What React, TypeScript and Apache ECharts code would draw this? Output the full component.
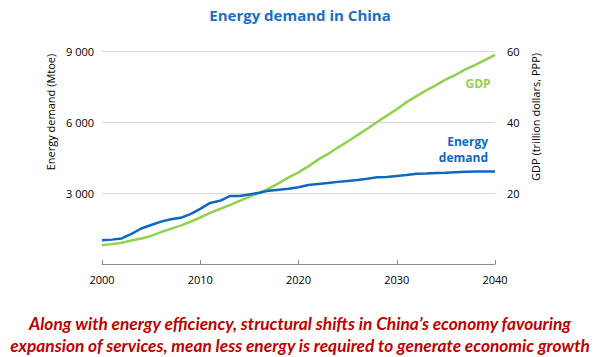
import React, { useEffect, useRef } from "react";
import * as echarts from "echarts";

const years: string[] = [];
for (let y = 2000; y <= 2040; y++) years.push(String(y));

const energyDemand = [
  1000, 1030, 1080, 1270, 1500, 1650, 1790, 1890, 1950, 2110,
  2330, 2580, 2670, 2870, 2870, 2940, 3010, 3100, 3140, 3180,
  3240, 3340, 3380, 3420, 3470, 3510, 3550, 3600, 3670, 3680,
  3720, 3760, 3810, 3820, 3850, 3860, 3880, 3900, 3910, 3910, 3910,
];

const gdp = [
  5.3, 5.6, 6.0, 6.6, 7.2, 7.9, 9.0, 9.9, 10.8, 11.9,
  13.1, 14.4, 15.5, 16.6, 17.8, 18.9, 20.0, 21.3, 22.8, 24.4,
  25.8, 27.5, 29.4, 31.0, 32.8, 34.5, 36.3, 38.1, 40.0, 41.8,
  43.6, 45.6, 47.3, 48.9, 50.4, 52.0, 53.3, 54.8, 56.1, 57.5, 58.9,
];

const leftTicks = [0, 3000, 6000, 9000];
const rightTicks = [0, 20, 40, 60];

const footerLines = [
  "Along with energy efficiency, structural shifts in China\u2019s economy favouring",
  "expansion of services, mean less energy is required to generate economic growth",
];

const FONT = "'Open Sans', sans-serif";
const BLUE = "#0f67c0";
const GREEN = "#92d050";

export default function App() {
  const ref = useRef<HTMLDivElement>(null);
  useEffect(() => {
    if (!ref.current) return;
    const chart = echarts.init(ref.current, null, { renderer: "svg" });
    chart.setOption({
      animation: false,
      backgroundColor: "#ffffff",
      textStyle: { fontFamily: FONT },
      title: {
        text: "Energy demand in China",
        left: "center",
        top: 2,
        textStyle: { color: "#1a6fc4", fontSize: 15, fontWeight: "bold", fontFamily: FONT },
      },
      grid: { left: 102, right: 105, top: 51, bottom: 93, containLabel: false },
      xAxis: {
        type: "category",
        data: years,
        boundaryGap: false,
        axisLine: { lineStyle: { color: "#8c8c8c", width: 1 } },
        axisTick: {
          show: true,
          inside: true,
          length: 4,
          interval: (i: number) => i % 10 === 0,
          lineStyle: { color: "#8c8c8c" },
        },
        axisLabel: {
          interval: (i: number) => i % 10 === 0,
          color: "#000",
          fontSize: 11,
          margin: 10,
          fontFamily: FONT,
        },
        splitLine: { show: false },
      },
      yAxis: [
        {
          type: "value",
          min: leftTicks[0],
          max: leftTicks[leftTicks.length - 1],
          interval: leftTicks[1] - leftTicks[0],
          axisLine: { show: false },
          axisTick: { show: false },
          splitLine: { lineStyle: { color: "#d9d9d9", width: 1 } },
          axisLabel: {
            showMinLabel: false,
            color: "#000",
            fontSize: 11,
            margin: 8,
            fontFamily: FONT,
            formatter: (v: number) => String(v).replace(/\B(?=(\d{3})+(?!\d))/g, " "),
          },
        },
        {
          type: "value",
          min: rightTicks[0],
          max: rightTicks[rightTicks.length - 1],
          interval: rightTicks[1] - rightTicks[0],
          position: "right",
          axisLine: { show: false },
          axisTick: { show: false },
          splitLine: { show: false },
          axisLabel: {
            showMinLabel: false,
            color: "#000",
            fontSize: 11,
            margin: 12,
            fontFamily: FONT,
          },
        },
      ],
      series: [
        {
          name: "GDP",
          type: "line",
          yAxisIndex: 1,
          data: gdp,
          showSymbol: false,
          lineStyle: { color: GREEN, width: 2.5 },
          itemStyle: { color: GREEN },
          z: 2,
        },
        {
          name: "Energy demand",
          type: "line",
          yAxisIndex: 0,
          data: energyDemand,
          showSymbol: false,
          lineStyle: { color: BLUE, width: 2.5 },
          itemStyle: { color: BLUE },
          z: 3,
        },
      ],
      graphic: [
        {
          type: "text",
          x: 50,
          y: 112,
          rotation: Math.PI / 2,
          style: {
            text: "Energy demand (Mtoe)",
            fill: "#000",
            font: `11px ${FONT}`,
            textAlign: "center",
            textVerticalAlign: "middle",
          },
        },
        {
          type: "text",
          x: 535,
          y: 117,
          rotation: Math.PI / 2,
          style: {
            text: "GDP (trillion dollars, PPP)",
            fill: "#000",
            font: `11px ${FONT}`,
            textAlign: "center",
            textVerticalAlign: "middle",
          },
        },
        {
          type: "text",
          x: 478,
          y: 83,
          style: {
            text: "GDP",
            fill: GREEN,
            font: `bold 12px ${FONT}`,
            textAlign: "center",
            textVerticalAlign: "middle",
          },
        },
        {
          type: "text",
          x: 488,
          y: 141,
          style: {
            text: "Energy",
            fill: BLUE,
            font: `bold 12px ${FONT}`,
            textAlign: "right",
            textVerticalAlign: "middle",
          },
        },
        {
          type: "text",
          x: 488,
          y: 157,
          style: {
            text: "demand",
            fill: BLUE,
            font: `bold 12px ${FONT}`,
            textAlign: "right",
            textVerticalAlign: "middle",
          },
        },
        ...footerLines.map((t, i) => ({
          type: "text",
          x: 300,
          y: 323 + i * 22,
          style: {
            text: t,
            fill: "#c00000",
            font: `italic bold 17.3px Lato, sans-serif`,
            textAlign: "center",
            textVerticalAlign: "middle",
          },
        })),
      ],
    });
    return () => chart.dispose();
  }, []);
  return <div ref={ref} style={{ width: 600, height: 357, position: "absolute", left: 0, top: 0 }} />;
}
